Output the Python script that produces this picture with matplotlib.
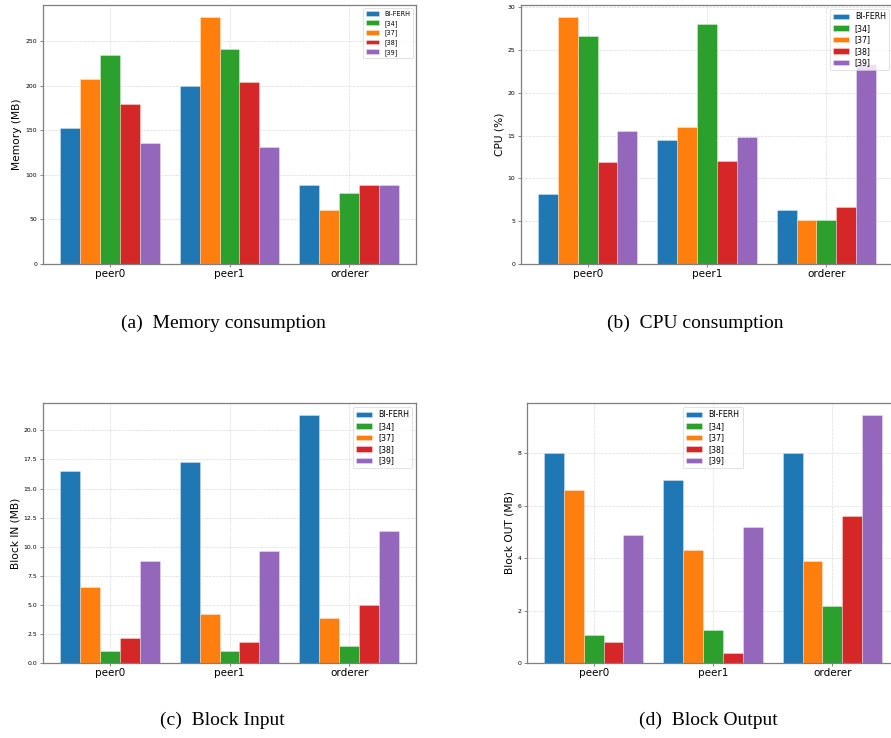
import matplotlib
matplotlib.use("Agg")
import matplotlib.pyplot as plt
import numpy as np

# ---------------- data ----------------
categories = ["peer0", "peer1", "orderer"]
series_labels = ["BI-FERH", "[34]", "[37]", "[38]", "[39]"]

memory_bi_ferh = [152.8, 200.0, 89.0]
memory_34 = [234.4, 241.0, 79.4]
memory_37 = [207.5, 276.5, 60.0]
memory_38 = [179.2, 204.5, 89.0]
memory_39 = [136.0, 130.8, 89.0]

cpu_bi_ferh = [8.16, 14.5, 6.33]
cpu_34 = [26.7, 28.06, 5.09]
cpu_37 = [28.84, 16.01, 5.09]
cpu_38 = [11.97, 12.05, 6.72]
cpu_39 = [15.58, 14.89, 23.43]

blockin_bi_ferh = [16.55, 17.27, 21.29]
blockin_34 = [1.03, 1.03, 1.44]
blockin_37 = [6.55, 4.25, 3.88]
blockin_38 = [2.16, 1.78, 4.97]
blockin_39 = [8.79, 9.6, 11.38]

blockout_bi_ferh = [8.0, 6.99, 8.0]
blockout_34 = [1.07, 1.27, 2.18]
blockout_37 = [6.6, 4.29, 3.89]
blockout_38 = [0.79, 0.39, 5.59]
blockout_39 = [4.89, 5.2, 9.44]

captions = ["(a)  Memory consumption", "(b)  CPU consumption",
            "(c)  Block Input", "(d)  Block Output"]
ylabels = ["Memory (MB)", "CPU (%)", "Block IN (MB)", "Block OUT (MB)"]

# ---------------- style ----------------
colors = ["#1f77b4", "#2ca02c", "#ff7f0e", "#d62728", "#9467bd"]
slots = [0, 2, 1, 3, 4]   # bar position within group for each series
bar_w = 1.0 / 6

fig = plt.figure(figsize=(8.91, 7.38), dpi=100)
W, H = 891.0, 738.0

def axes_px(left, top, right, bottom):
    return fig.add_axes([left / W, 1 - bottom / H, (right - left) / W, (bottom - top) / H])

panels = [
    (axes_px(43, 5, 416, 264), [memory_bi_ferh, memory_34, memory_37, memory_38, memory_39],
     dict(loc="upper right", fontsize=4.7, labelspacing=0.45)),
    (axes_px(521, 5, 893, 264), [cpu_bi_ferh, cpu_34, cpu_37, cpu_38, cpu_39],
     dict(loc="upper right", fontsize=5.7, labelspacing=0.32)),
    (axes_px(43, 403, 416, 663), [blockin_bi_ferh, blockin_34, blockin_37, blockin_38, blockin_39],
     dict(loc="upper right", fontsize=5.7, labelspacing=0.32)),
    (axes_px(527, 403, 899, 663), [blockout_bi_ferh, blockout_34, blockout_37, blockout_38, blockout_39],
     dict(loc="upper center", fontsize=5.7, labelspacing=0.32)),
]

x = np.arange(len(categories))
for i, (ax, data, legkw) in enumerate(panels):
    for s, (vals, lab, col) in enumerate(zip(data, series_labels, colors)):
        offs = (slots[s] - 2) * bar_w
        ax.bar(x + offs, vals, bar_w, color=col, label=lab,
               edgecolor=(1, 1, 1, 0.45), linewidth=0.5, zorder=2)
    ax.set_xticks(x)
    ax.set_xticklabels(categories, fontsize=7.5)
    ax.tick_params(axis="y", labelsize=4.4, length=2, width=0.5, pad=2, color="#555555")
    ax.tick_params(axis="x", length=2, width=0.5, pad=1.5, color="#555555")
    ax.set_ylabel(ylabels[i], fontsize=7.7, labelpad=2.5)
    ax.grid(True, linestyle="--", color="#cccccc", linewidth=0.5, alpha=0.7, zorder=0)
    ax.set_axisbelow(True)
    for sp in ax.spines.values():
        sp.set_color("#7f7f7f")
        sp.set_linewidth(0.9)
    leg = ax.legend(**legkw, framealpha=0.8, borderpad=0.4)
    leg.get_frame().set_linewidth(0.5)

# captions
cap_pos = [(223, 323), (695, 323), (222, 720), (708, 720)]
for (cx, cy), txt in zip(cap_pos, captions):
    fig.text(cx / W, 1 - cy / H, txt, ha="center", va="center",
             fontsize=14, family=["Liberation Serif", "DejaVu Serif"])

fig.savefig("out.png", dpi=100)
